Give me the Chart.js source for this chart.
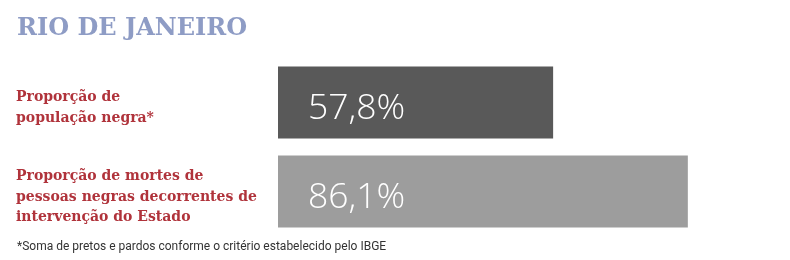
<!DOCTYPE html>
<html lang="pt-BR">
<head>
<meta charset="utf-8">
<script src="https://cdn.jsdelivr.net/npm/chart.js@4.4.1/dist/chart.umd.min.js"></script>
<style>
  html, body { margin: 0; padding: 0; background: #fff; }
  #wrap { width: 790px; height: 260px; }
</style>
</head>
<body>
<div id="wrap"><canvas id="grafico"></canvas></div>
<script>
const titulo = "RIO DE JANEIRO";
const categorias = [
  ["Proporção de", "população negra*"],
  ["Proporção de mortes de", "pessoas negras decorrentes de", "intervenção do Estado"]
];
const valores = [57.8, 86.1];
const rotulos = ["57,8%", "86,1%"];
const cores = ["#595959", "#9d9d9d"];
const nota = "*Soma de pretos e pardos conforme o critério estabelecido pelo IBGE";

const serifa = "'DejaVu Serif', serif";

// titulo, categorias, nota de rodape e valores dentro das barras
const textos = {
  id: "textos",
  afterDatasetsDraw(chart) {
    const ctx = chart.ctx;
    const y = chart.scales.y;
    ctx.save();
    ctx.textBaseline = "alphabetic";
    ctx.fillStyle = "#8e9cc5";
    ctx.font = "bold 24px " + serifa;
    ctx.fillText(titulo, 17, 35);

    ctx.fillStyle = "#b0333b";
    ctx.font = "bold 14px " + serifa;
    categorias.forEach((linhas, i) => {
      const centro = y.getPixelForValue(i);
      const topo = centro - (linhas.length - 1) * 20.5 / 2 + 9;
      linhas.forEach((t, j) => ctx.fillText(t, 16, topo + j * 20.5));
    });

    ctx.fillStyle = "#333";
    ctx.font = "12px Roboto";
    ctx.fillText(nota, 17, 250);

    ctx.fillStyle = "#fff";
    ctx.font = "300 35.5px 'Open Sans'";
    chart.getDatasetMeta(0).data.forEach((bar, i) => {
      ctx.fillText(rotulos[i], bar.base + 30, bar.y + 16);
    });
    ctx.restore();
  }
};

new Chart(document.getElementById("grafico"), {
  type: "bar",
  data: {
    labels: categorias,
    datasets: [{
      data: valores,
      backgroundColor: cores,
      borderWidth: 0,
      barPercentage: 1,
      categoryPercentage: 0.81
    }]
  },
  options: {
    indexAxis: "y",
    responsive: true,
    maintainAspectRatio: false,
    animation: false,
    layout: { padding: { left: 278, right: 36, top: 58, bottom: 24 } },
    plugins: {
      legend: { display: false },
      tooltip: { enabled: false }
    },
    scales: {
      x: { display: false, min: 0, max: 100 },
      y: { display: false }
    }
  },
  plugins: [textos]
});
</script>
</body>
</html>
